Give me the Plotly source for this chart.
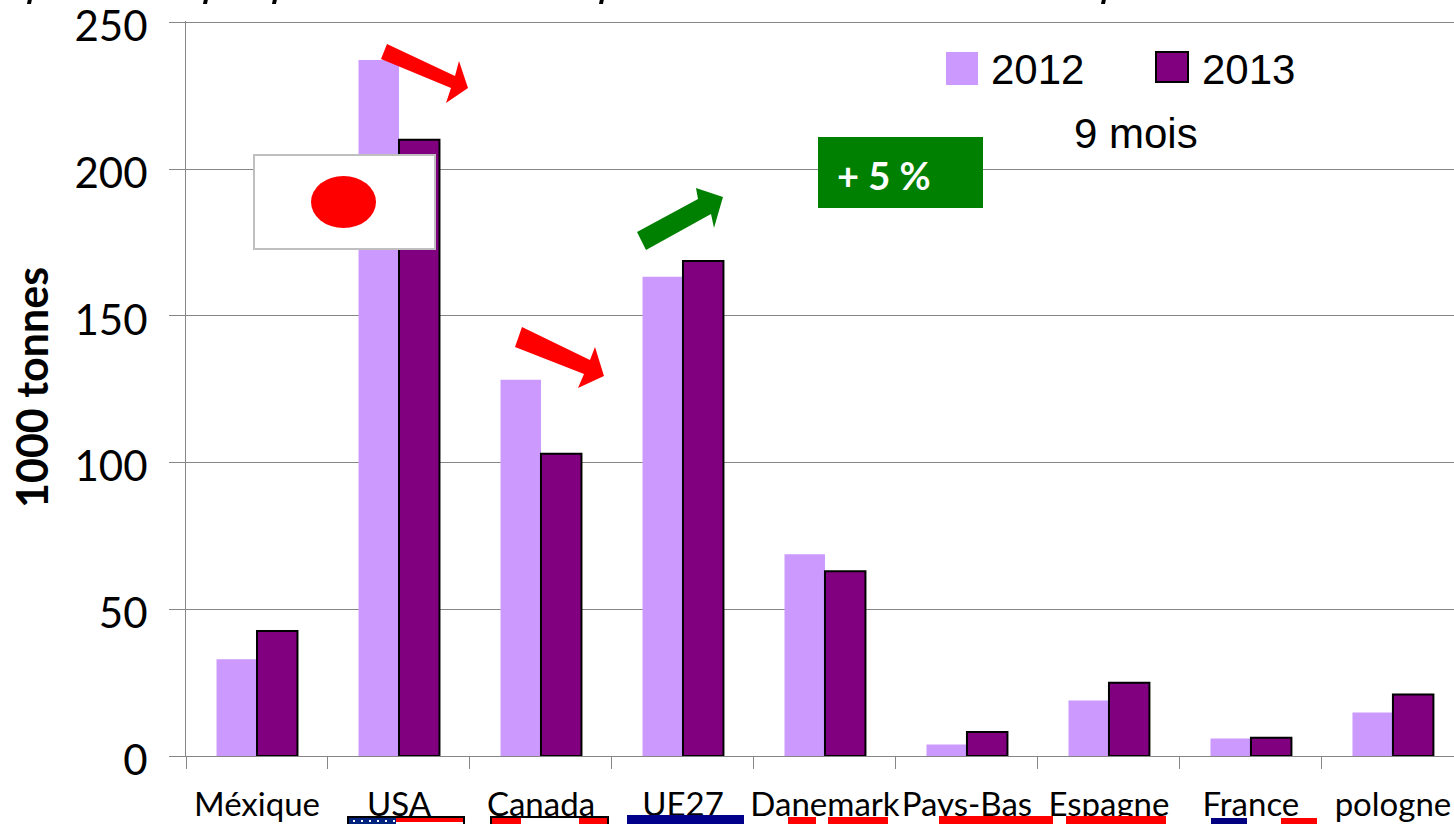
import plotly.graph_objects as go

categories = ["Méxique", "USA", "Canada", "UE27", "Danemark", "Pays-Bas", "Espagne", "France", "pologne"]
values_2012 = [33, 237.2, 128.2, 163.3, 68.8, 3.9, 18.9, 6, 14.8]
values_2013 = [42.6, 210, 103, 168.7, 63, 8.2, 25, 6.2, 21]
y_ticks = [0, 50, 100, 150, 200, 250]

W, H = 1454, 824
ML, MR, MT, MB = 186, 0, 21, 68


def px(x):
    return (x - ML) / (W - ML - MR)


def py(y):
    return (H - MB - y) / (H - MT - MB)


def poly(points, color):
    d = "M" + " L".join(f"{px(x):.5f},{py(y):.5f}" for x, y in points) + " Z"
    return dict(type="path", xref="paper", yref="paper", path=d,
                fillcolor=color, line=dict(width=0), layer="above")


def box(x0, y0, x1, y1, color, line=None, width=0):
    return dict(type="rect", xref="paper", yref="paper", x0=px(x0), x1=px(x1),
                y0=py(y1), y1=py(y0), fillcolor=color,
                line=dict(color=line or color, width=width), layer="above")


def label(x, y, text, size, color="black", family="Liberation Sans", anchor="left", bold=False, angle=0):
    return dict(xref="paper", yref="paper", x=px(x), y=py(y), text=f"<b>{text}</b>" if bold else text,
                showarrow=False, xanchor=anchor, yanchor="middle", textangle=angle,
                font=dict(size=size, color=color, family=family))


fig = go.Figure()
fig.add_bar(name="2012", x=categories, y=values_2012, marker=dict(color="#CC99FF", line=dict(width=0)))
fig.add_bar(name="2013", x=categories, y=values_2013, marker=dict(color="#800080", line=dict(color="black", width=2)))

shapes = [
    # red arrows
    poly([(387, 44), (455, 76), (459, 61), (468, 88), (446, 103), (451, 88), (381, 59)], "#FF0000"),
    poly([(522, 327), (590, 360), (595, 347), (604, 376), (578, 388), (584, 374), (515, 347)], "#FF0000"),
    # green arrow
    poly([(637, 232), (698, 199), (696, 188), (723, 197), (714, 228), (711, 214), (646, 250)], "#008000"),
    # Japan flag
    box(254, 155, 435, 249, "white", "#BFBFBF", 2),
    dict(type="circle", xref="paper", yref="paper", x0=px(311), x1=px(376), y0=py(228), y1=py(176),
         fillcolor="#FF0000", line=dict(width=0), layer="above"),
    # green label box
    box(818, 137, 983, 208, "#008000"),
    # legend swatches
    box(946, 52, 978, 85, "#CC99FF"),
    box(1156, 52, 1188, 82, "#800080", "black", 2),
    # flags clipped by the bottom edge
    box(348, 817, 464, 826, "white", "black", 2),
    box(396, 818, 463, 822, "#FF0000"),
    box(349, 818, 396, 826, "#00247D"),
    box(491, 817, 608, 826, "white", "black", 2),
    box(492, 818, 521, 826, "#FF0000"),
    box(579, 818, 607, 826, "#FF0000"),
    box(627, 815, 744, 826, "#00008B"),
    box(788, 817, 816, 826, "#FF0000"),
    box(828, 817, 888, 826, "#FF0000"),
    box(939, 816, 1053, 826, "#FF0000"),
    box(1066, 816, 1166, 826, "#FF0000"),
    box(1211, 818, 1247, 826, "#000080"),
    box(1281, 818, 1317, 826, "#FF0000"),
]

# stars on the US flag canton
for sx in range(353, 394, 8):
    shapes.append(box(sx, 820, sx + 2, 822, "white"))

# slivers of the cut-off title at the very top edge
for sx in (28, 204, 273, 600, 1102):
    shapes.append(poly([(sx, -1), (sx + 4, -1), (sx + 3, 4), (sx - 1, 4)], "black"))

annotations = [
    label(989, 69, "2012", 42),
    label(1200, 69, "2013", 42),
    label(1136, 133, "9 mois", 42, anchor="center"),
    label(835, 175, "+ 5 %", 38, color="white", family="Lato", bold=True),
    label(32, 388, "1000 tonnes", 43, family="Lato", anchor="center", bold=True, angle=-90),
]

fig.update_layout(
    width=W, height=H, autosize=False,
    margin=dict(l=ML, r=MR, t=MT, b=MB, pad=0),
    paper_bgcolor="white", plot_bgcolor="white",
    barmode="group", bargap=0.43, bargroupgap=0,
    showlegend=False, shapes=shapes, annotations=annotations,
    font=dict(family="Lato", color="black"),
    xaxis=dict(type="category", range=[-0.5, 8.43], tickson="boundaries", ticks="outside", ticklen=12,
               tickcolor="#868686", tickwidth=1, showline=True, linecolor="#868686", linewidth=1,
               tickangle=0, ticklabelstandoff=19, ticklabeloverflow="allow",
               tickfont=dict(size=33, family="Lato", color="black"), showgrid=False, automargin=False),
    yaxis=dict(range=[0, 250.5], tickvals=y_ticks, ticks="outside", ticklen=16, tickcolor="#868686",
               showline=True, linecolor="#868686", gridcolor="#868686", gridwidth=1, zeroline=False,
               ticklabelstandoff=13, ticklabelshift=4, ticklabeloverflow="allow",
               tickfont=dict(size=42, family="Lato", color="black"), automargin=False),
)

fig.write_html("out.html", config=dict(displayModeBar=False),
               post_script="document.body.style.margin='0';document.body.style.overflow='hidden';")
